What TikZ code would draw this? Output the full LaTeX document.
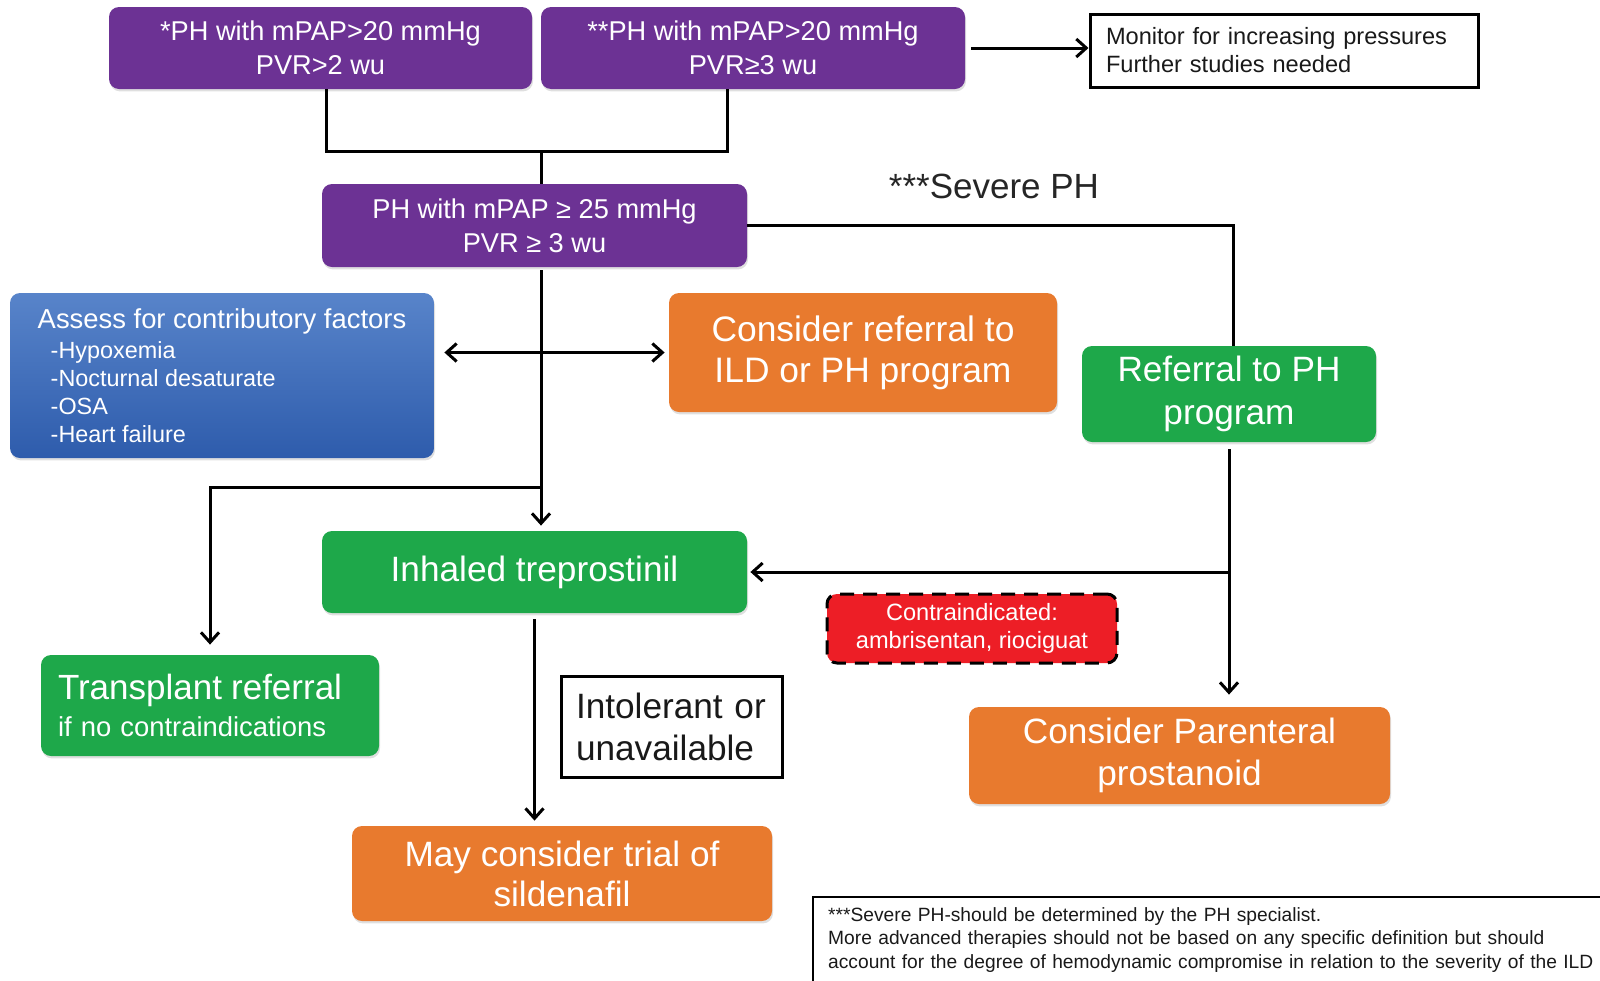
\documentclass[tikz,border=0pt]{standalone}
\usepackage{fontspec}
\setmainfont{Liberation Sans}
\usepackage{tikz}
\usetikzlibrary{arrows.meta,calc,shadows}

\definecolor{phpurple}{RGB}{108,50,148}
\definecolor{phbluetop}{RGB}{88,132,202}
\definecolor{phbluebot}{RGB}{46,92,172}
\definecolor{phorange}{RGB}{232,122,46}
\definecolor{phgreen}{RGB}{30,168,74}
\definecolor{phred}{RGB}{237,30,38}

\begin{document}
\begin{tikzpicture}[x=0.5pt,y=-0.5pt,
  box/.style={rounded corners=5pt, text=white, align=center, inner sep=0pt,
    drop shadow={shadow xshift=0.5pt,shadow yshift=-1.2pt,opacity=0.25}},
  purplebox/.style={box, fill=phpurple, font=\fontsize{13.6}{16.8}\selectfont},
  orangebox/.style={box, fill=phorange, font=\fontsize{17.7}{20.5}\selectfont},
  greenbox/.style={box, fill=phgreen, font=\fontsize{17.6}{21.5}\selectfont},
  bluebox/.style={box, top color=phbluetop, bottom color=phbluebot, align=left,
    font=\fontsize{11.7}{14}\selectfont},
  redbox/.style={rounded corners=5pt, fill=phred, text=white, align=center, inner sep=0pt,
    draw=black, line width=1.5pt, dash pattern=on 7pt off 4.5pt,
    font=\fontsize{11.8}{14}\selectfont},
  notebox/.style={draw, line width=1.5pt, align=left, text=black!90},
  line/.style={line width=1.5pt},
  arr/.style={line, -{Straight Barb[length=5pt,width=9pt]}},
  dblarr/.style={line, {Straight Barb[length=5pt,width=9pt]}-{Straight Barb[length=5pt,width=9pt]}},
]
\useasboundingbox (0,0) rectangle (1600,980);

\node[purplebox, minimum width=211.5pt, minimum height=41pt] (ph1) at (320.5,48) {*PH with mPAP>20 mmHg\\PVR>2 wu};
\node[purplebox, minimum width=212pt, minimum height=41pt] (ph2) at (753,48) {**PH with mPAP>20 mmHg\\PVR≥3 wu};
\node[notebox, text width=178pt, inner xsep=8pt, minimum height=36.5pt, font=\fontsize{11.8}{14}\selectfont] (monitor) at (1284,50.5) {Monitor for increasing pressures\\Further studies needed};

\node[purplebox, minimum width=212.5pt, minimum height=41.5pt] (ph3) at (534.5,225.5) {PH with mPAP ≥ 25 mmHg\\PVR ≥ 3 wu};
\node[font=\fontsize{17.5}{21}\selectfont, text=black!85] (severe) at (994,186) {***Severe PH};

\node[bluebox, minimum width=212pt, minimum height=82.5pt] (assess) at (222,375.5)
  {{\fontsize{13.7}{16}\selectfont Assess for contributory factors}\\[1.3pt]
   \hspace*{6.5pt}-Hypoxemia\\
   \hspace*{6.5pt}-Nocturnal desaturate\\
   \hspace*{6.5pt}-OSA\\
   \hspace*{6.5pt}-Heart failure};
\node[orangebox, minimum width=194pt, minimum height=59.5pt] (ildref) at (863,352.5) {Consider referral to\\ILD or PH program};
\node[greenbox, minimum width=147pt, minimum height=48pt] (phref) at (1229,394) {Referral to PH\\program};

\node[greenbox, minimum width=212.5pt, minimum height=41pt] (inhaled) at (534.5,572) {Inhaled treprostinil};
\node[redbox, minimum width=145pt, minimum height=34.5pt] (contra) at (972,628.5) {Contraindicated:\\ambrisentan, riociguat};

\node[greenbox, align=left, text width=152pt, inner xsep=8.5pt, minimum height=50.5pt, font=\fontsize{13.7}{16}\selectfont] (transplant) at (210,705.5)
  {{\fontsize{17.5}{19}\selectfont Transplant referral}\\[2.9pt]if no contraindications};
\node[notebox, text width=95.5pt, inner xsep=7.5pt, minimum height=50.5pt, font=\fontsize{17.6}{21}\selectfont] (intol) at (671.5,726.5) {Intolerant or\\unavailable};
\node[orangebox, minimum width=210.5pt, minimum height=48.5pt, font=\fontsize{17.6}{21}\selectfont] (parent) at (1179.5,755.5) {Consider Parenteral\\prostanoid};
\node[orangebox, minimum width=210pt, minimum height=47.5pt, font=\fontsize{17.6}{20}\selectfont] (sildenafil) at (562,873.5) {May consider trial of\\sildenafil};

\node[notebox, line width=1.2pt, anchor=north west, text width=400pt, inner xsep=7.5pt, inner ysep=5pt, font=\fontsize{9.6}{11.75}\selectfont] (footnote) at (812,896)
  {***Severe PH-should be determined by the PH specialist.\\
   More advanced therapies should not be based on any specific definition but should\\
   account for the degree of hemodynamic compromise in relation to the severity of the ILD\\[4pt]};

% connectors
\coordinate (join) at (541,151);
\coordinate (split) at (541,487);
\draw[line] ([xshift=3pt]ph1.south) |- (join) -| ([xshift=-13pt]ph2.south);
\draw[line] (join) -- (join |- ph3.north);
\draw[arr, shorten <=3pt] (ph2.east) -- (ph2.east -| monitor.west);
\draw[line] (ph3.east) -| ([xshift=2pt]phref.north);
\draw[arr, shorten <=1.5pt, shorten >=2.5pt] ([xshift=3.25pt]ph3.south) -- ([xshift=3.25pt]ph3.south |- inhaled.north);
\draw[arr, shorten >=5pt] (split) -| (transplant.north);
\draw[dblarr, shorten <=5pt, shorten >=2pt] (assess.east |- ildref.west) -- (ildref.west);
\draw[arr, shorten <=3.5pt, shorten >=6pt] (phref.south) -- (phref.south |- parent.north);
\draw[arr, shorten >=1.5pt] (phref.south |- inhaled.east) -- (inhaled.east);
\draw[arr, shorten <=3pt, shorten >=2.5pt] (inhaled.south) -- (inhaled.south |- sildenafil.north);

\end{tikzpicture}
\end{document}
